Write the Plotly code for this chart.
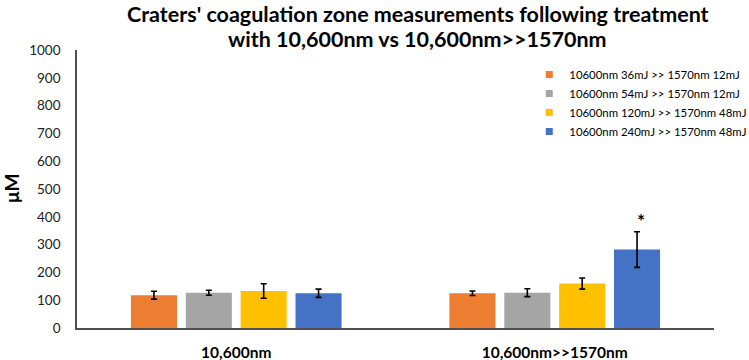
import plotly.graph_objects as go

categories = ["10,600nm", "10,600nm>>1570nm"]
series_names = [
    "10600nm 36mJ >> 1570nm 12mJ",
    "10600nm 54mJ >> 1570nm 12mJ",
    "10600nm 120mJ >> 1570nm 48mJ",
    "10600nm 240mJ >> 1570nm 48mJ",
]
series_values = [
    [118, 125],
    [127, 127],
    [133, 160],
    [125, 282],
]
series_errors = [
    [14, 8],
    [9, 14],
    [26, 20],
    [15, 64],
]
colors = ["#ED7D31", "#A5A5A5", "#FFC000", "#4472C4"]
y_ticks = [0, 100, 200, 300, 400, 500, 600, 700, 800, 900, 1000]
star_y = 385
title_lines = [
    "Craters' coagulation zone measurements following treatment",
    "with 10,600nm vs 10,600nm>>1570nm",
]
y_title = "μM"

fig = go.Figure()
for name, vals, errs, c in zip(series_names, series_values, series_errors, colors):
    fig.add_trace(go.Bar(
        x=categories, y=vals, name=name, showlegend=False,
        marker=dict(color=c, line=dict(width=0)),
        error_y=dict(type="data", array=errs, color="#000000", thickness=1.6, width=3),
    ))
# legend entries with small square swatches
for name, c in zip(series_names, colors):
    fig.add_trace(go.Scatter(
        x=[None], y=[None], mode="markers", name=name,
        marker=dict(symbol="square", size=7, color=c),
    ))

fig.add_annotation(x=categories[1], y=star_y, text="<b>*</b>", showarrow=False,
                   xshift=86, font=dict(size=19, color="#000", family="Lato"))

for line, ys in zip(title_lines, [36, 11]):
    fig.add_annotation(xref="paper", yref="paper", x=0.535, y=1, xanchor="center", yanchor="middle",
                       yshift=ys, showarrow=False, text="<b>" + line + "</b>",
                       font=dict(family="Lato", size=21.5, color="#000"))

fig.add_annotation(xref="paper", yref="paper", x=0, y=0.5, xanchor="center", yanchor="middle",
                   xshift=-66, textangle=-90, showarrow=False, text="<b>" + y_title + "</b>",
                   font=dict(family="Lato", size=19, color="#000"))

fig.update_layout(
    width=749, height=360,
    margin=dict(l=77, r=35, t=50, b=32, autoexpand=False),
    paper_bgcolor="white", plot_bgcolor="white",
    barmode="group", bargap=0.311, bargroupgap=0.16,
    font=dict(family="Lato", color="#000"),
    legend=dict(x=0.71, xanchor="left", y=0.964, yanchor="top",
                font=dict(size=11.4, family="Lato", color="#000"),
                bgcolor="rgba(0,0,0,0)", itemwidth=30, tracegroupgap=2),
    showlegend=True,
)
fig.update_yaxes(range=[0, 1000], tickvals=y_ticks, showgrid=False, zeroline=False,
                 automargin=False,
                 showline=True, linecolor="#505050", linewidth=1.6,
                 ticks="", ticklabelstandoff=12, tickfont=dict(size=13.5, family="Lato", color="#222"))
fig.update_xaxes(showgrid=False, showline=True, linecolor="#505050", linewidth=1.6,
                 automargin=False, ticklabelstandoff=10,
                 ticks="", tickfont=dict(size=15.5, family="Lato", color="#000"),
                 tickprefix="<b>", ticksuffix="</b>")

# remove the browser's default 8px body margin so the figure fills the window
fig.write_html("out.html", config={"displayModeBar": False},
               post_script="document.body.style.margin='0';")
